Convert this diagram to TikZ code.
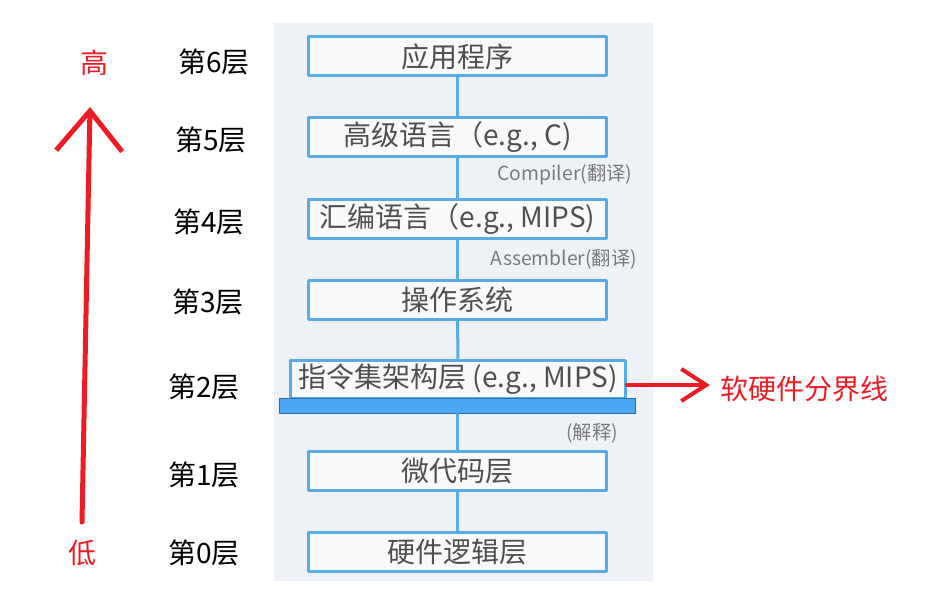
\documentclass[tikz,border=0pt]{standalone}
\usepackage{fontspec}
\newfontfamily\cjk{Noto Sans CJK SC}
\usetikzlibrary{arrows.meta}
\definecolor{boxblue}{HTML}{58ACE6}
\definecolor{barblue}{HTML}{4AA8F5}
\definecolor{bardark}{HTML}{2B6FA6}
\definecolor{panel}{HTML}{EEF2F6}
\definecolor{redmark}{HTML}{ED1C24}
\definecolor{txtgray}{HTML}{4F4F4F}
\definecolor{notegray}{HTML}{7A7A7A}
\begin{document}
\begin{tikzpicture}[x=0.75pt, y=-0.75pt, font=\cjk, line join=round, line cap=round,
  layer/.style={draw=boxblue, line width=2.25pt, fill=white!55!panel, minimum width=223.5pt, minimum height=29.25pt, inner sep=0pt, text=txtgray, font=\cjk\fontsize{21}{24}\selectfont},
  note/.style={text=notegray, inner sep=0pt, font=\cjk\fontsize{14.5}{16}\selectfont},
  link/.style={boxblue, line width=2.25pt},
  lvl/.style={anchor=west, inner sep=0pt, font=\cjk\fontsize{21}{24}\selectfont},
  redtext/.style={text=redmark, inner sep=0pt, font=\cjk\fontsize{21}{24}\selectfont},
  redline/.style={redmark, line width=3.75pt}]
\useasboundingbox (0,0) rectangle (930,591);
\fill[panel] (274,23) rectangle (653,581);
% layers
\node[layer] (b6) at (457.5,56.5) {应用程序};
\node[layer] (b5) at (457.5,137.5) {高级语言（e.g., C)};
\node[layer] (b4) at (457.5,219.5) {汇编语言（e.g., MIPS)};
\node[layer] (b3) at (457.5,300) {操作系统};
\node[layer, minimum width=251.25pt, minimum height=28.5pt] (b2) at (458,379.5) {指令集架构层 (e.g., MIPS)};
\node[draw=bardark, line width=0.75pt, fill=barblue, minimum width=267pt, minimum height=11.25pt, inner sep=0pt] (bar) at (457.5,406) {};
\node[layer] (b1) at (457.5,470.5) {微代码层};
\node[layer] (b0) at (457.5,551.5) {硬件逻辑层};
\foreach \a/\b in {b6/b5, b5/b4, b4/b3, b3/b2, bar/b1, b1/b0}
  \draw[link] (\a) -- (\b);
\node[note] (compiler) at (565,175) {Compiler(翻译)};
\node[note] (assembler) at (564,259) {Assembler(翻译)};
\node[note] (interp) at (592,433) {(解释)};
% level numbers
\foreach \n/\x/\y in {6/178/62, 5/175/140, 4/173/222, 3/172/302, 2/168/387, 1/168/475, 0/168/553}
  \node[lvl] (l\n) at (\x,\y) {第\n{}层};
% high / low
\node[redtext] (high) at (94.5,63) {高};
\node[redtext] (low) at (82.5,553) {低};
\path (82,522) coordinate (tail) (90,107) coordinate (tip) (710,385) coordinate (to);
\draw[redline, -{Straight Barb[length=30pt, width=49.5pt]}] (tail) -- (tip);
% boundary
\node[redtext, anchor=west] (divide) at (720,389) {软硬件分界线};
\draw[redline, line width=3pt, -{Straight Barb[length=18.75pt, width=24pt]}] (b2.east |- to) -- (to);
\end{tikzpicture}
\end{document}
